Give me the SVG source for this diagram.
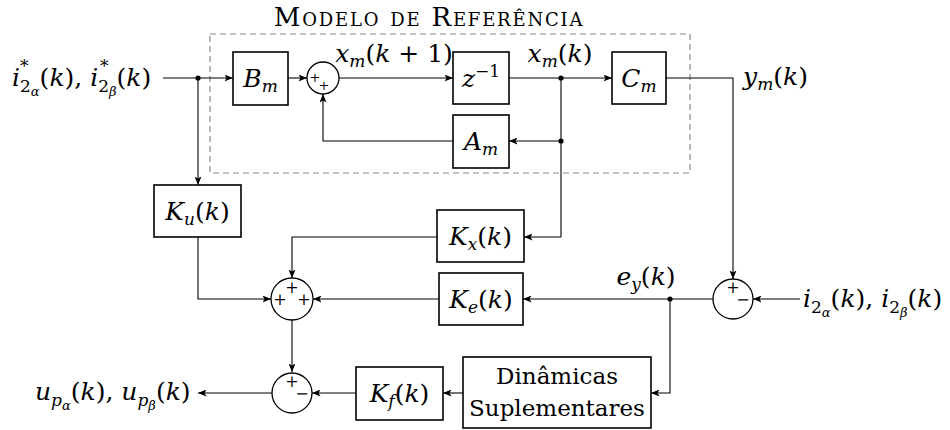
<svg xmlns="http://www.w3.org/2000/svg" width="950" height="430" viewBox="0 0 950 430" font-family="'DejaVu Serif', serif">
<defs>
<marker id="ar" markerWidth="9" markerHeight="7" refX="8.5" refY="3.5" orient="auto" markerUnits="userSpaceOnUse">
<path d="M0,0 L8.5,3.5 L0,7 L2,3.5 z" fill="#000"/>
</marker>
</defs>
<style>
.blk{fill:#fff;stroke:#000;stroke-width:1.6}
.sum{fill:#fff;stroke:#000;stroke-width:1.3}
.ln{fill:none;stroke:#000;stroke-width:1.1}
.arr{marker-end:url(#ar)}
.dot{fill:#000}
text{font-family:'DejaVu Serif',serif;fill:#000}
.m{font-size:25px}
.t{font-size:23px;text-anchor:middle}
.c{text-anchor:middle}
.i{font-style:italic}
.s{font-size:17px}
.ss{font-size:13px}
.sg{font-size:16px;text-anchor:middle}
.sg1{font-size:13px;text-anchor:middle}
.ttl{font-size:26px;font-variant:small-caps;text-anchor:middle;letter-spacing:1.8px}
</style>
<rect x="0" y="0" width="950" height="430" fill="#fff"/>
<g id="reference-model">
<rect x="210" y="34" width="480" height="139" fill="none" stroke="#8a8a8a" stroke-width="1.2" stroke-dasharray="6,4"/>
<text class="ttl" x="429" y="26">Modelo de Referência</text>
</g>
<g id="connectors">
<path class="ln arr" d="M163,78 H233"/>
<path class="ln arr" d="M198,78 V185"/>
<path class="ln arr" d="M288,78 H307"/>
<path class="ln arr" d="M339,78 H453"/>
<path class="ln arr" d="M509,78 H612"/>
<path class="ln arr" d="M666,78 H733 V279"/>
<path class="ln" d="M561,78 V237"/>
<path class="ln arr" d="M561,141 H509"/>
<path class="ln arr" d="M453,141 H323 V94"/>
<path class="ln arr" d="M561,237 H524"/>
<path class="ln arr" d="M437,237 H292 V278"/>
<path class="ln arr" d="M198,237 V299 H271"/>
<path class="ln arr" d="M439,299 H313"/>
<path class="ln arr" d="M713,299 H523"/>
<path class="ln arr" d="M800,299 H753"/>
<path class="ln arr" d="M670,299 V393 H651"/>
<path class="ln arr" d="M463,393 H443"/>
<path class="ln arr" d="M356,393 H312"/>
<path class="ln arr" d="M292,320 V372"/>
<path class="ln arr" d="M272,393 H198"/>
<circle class="dot" cx="198" cy="78" r="2.6"/>
<circle class="dot" cx="561" cy="78" r="2.6"/>
<circle class="dot" cx="561" cy="141" r="2.6"/>
<circle class="dot" cx="670" cy="299" r="2.6"/>
</g>
<g id="labels">
<text class="m" x="12" y="86"><tspan class="i">i</tspan><tspan class="s" dy="6">2</tspan><tspan class="ss i" dy="4">α</tspan><tspan dy="-10">(</tspan><tspan class="i">k</tspan><tspan>), </tspan><tspan class="i">i</tspan><tspan class="s" dy="6">2</tspan><tspan class="ss i" dy="4">β</tspan><tspan dy="-10">(</tspan><tspan class="i">k</tspan><tspan>)</tspan></text>
<text class="s" x="20" y="72">*</text>
<text class="s" x="100" y="72">*</text>
<text class="m c" x="394" y="62"><tspan class="i">x</tspan><tspan class="s i" dy="5">m</tspan><tspan dy="-5">(</tspan><tspan class="i">k</tspan><tspan> + 1)</tspan></text>
<text class="m c" x="560" y="62"><tspan class="i">x</tspan><tspan class="s i" dy="5">m</tspan><tspan dy="-5">(</tspan><tspan class="i">k</tspan><tspan>)</tspan></text>
<text class="m" x="743" y="85"><tspan class="i">y</tspan><tspan class="s i" dy="5">m</tspan><tspan dy="-5">(</tspan><tspan class="i">k</tspan><tspan>)</tspan></text>
<text class="m c" x="646" y="285"><tspan class="i">e</tspan><tspan class="s i" dy="5">y</tspan><tspan dy="-5">(</tspan><tspan class="i">k</tspan><tspan>)</tspan></text>
<text class="m" x="803" y="307"><tspan class="i">i</tspan><tspan class="s" dy="6">2</tspan><tspan class="ss i" dy="4">α</tspan><tspan dy="-10">(</tspan><tspan class="i">k</tspan><tspan>), </tspan><tspan class="i">i</tspan><tspan class="s" dy="6">2</tspan><tspan class="ss i" dy="4">β</tspan><tspan dy="-10">(</tspan><tspan class="i">k</tspan><tspan>)</tspan></text>
<text class="m" x="35" y="400"><tspan class="i">u</tspan><tspan class="s i" dy="6">p</tspan><tspan class="ss i" dy="4">α</tspan><tspan dy="-10">(</tspan><tspan class="i">k</tspan><tspan>), </tspan><tspan class="i">u</tspan><tspan class="s i" dy="6">p</tspan><tspan class="ss i" dy="4">β</tspan><tspan dy="-10">(</tspan><tspan class="i">k</tspan><tspan>)</tspan></text>
</g>
<g id="Bm">
<rect class="blk" x="233" y="52" width="55" height="53"/>
<text class="m c" x="260.5" y="87"><tspan class="i">B</tspan><tspan class="s i" dy="5">m</tspan></text>
</g>
<g id="sum1">
<circle class="sum" cx="323" cy="78" r="16"/>
<text class="sg1" x="315" y="82">+</text>
<text class="sg1" x="324" y="90">+</text>
</g>
<g id="z1">
<rect class="blk" x="453" y="52" width="56" height="52"/>
<text class="m c" x="481" y="87"><tspan class="i">z</tspan><tspan class="s" dy="-10">−1</tspan></text>
</g>
<g id="Cm">
<rect class="blk" x="612" y="52" width="54" height="52"/>
<text class="m c" x="639" y="87"><tspan class="i">C</tspan><tspan class="s i" dy="5">m</tspan></text>
</g>
<g id="Am">
<rect class="blk" x="453" y="115" width="56" height="53"/>
<text class="m c" x="481" y="150"><tspan class="i">A</tspan><tspan class="s i" dy="5">m</tspan></text>
</g>
<g id="Ku">
<rect class="blk" x="154" y="185" width="87" height="52"/>
<text class="m c" x="197.5" y="220"><tspan class="i">K</tspan><tspan class="s i" dy="5">u</tspan><tspan dy="-5">(</tspan><tspan class="i">k</tspan><tspan>)</tspan></text>
</g>
<g id="Kx">
<rect class="blk" x="437" y="210" width="87" height="52"/>
<text class="m c" x="480.5" y="245"><tspan class="i">K</tspan><tspan class="s i" dy="5">x</tspan><tspan dy="-5">(</tspan><tspan class="i">k</tspan><tspan>)</tspan></text>
</g>
<g id="Ke">
<rect class="blk" x="439" y="273" width="84" height="52"/>
<text class="m c" x="481" y="308"><tspan class="i">K</tspan><tspan class="s i" dy="5">e</tspan><tspan dy="-5">(</tspan><tspan class="i">k</tspan><tspan>)</tspan></text>
</g>
<g id="sum2">
<circle class="sum" cx="292" cy="299" r="21"/>
<text class="sg" x="292" y="293">+</text>
<text class="sg" x="280" y="305">+</text>
<text class="sg" x="304" y="305">+</text>
</g>
<g id="sum3">
<circle class="sum" cx="733" cy="299" r="20"/>
<text class="sg" x="733" y="293">+</text>
<text class="sg" x="743" y="305">−</text>
</g>
<g id="sum4">
<circle class="sum" cx="292" cy="393" r="20"/>
<text class="sg" x="292" y="387">+</text>
<text class="sg" x="302" y="399">−</text>
</g>
<g id="Kf">
<rect class="blk" x="356" y="367" width="87" height="53"/>
<text class="m c" x="399.5" y="402"><tspan class="i">K</tspan><tspan class="s i" dy="5">f</tspan><tspan dy="-5">(</tspan><tspan class="i">k</tspan><tspan>)</tspan></text>
</g>
<g id="dinamicas">
<rect class="blk" x="463" y="357" width="188" height="71"/>
<text class="t" x="557" y="384">Dinâmicas</text>
<text class="t" x="557" y="416">Suplementares</text>
</g>
</svg>
